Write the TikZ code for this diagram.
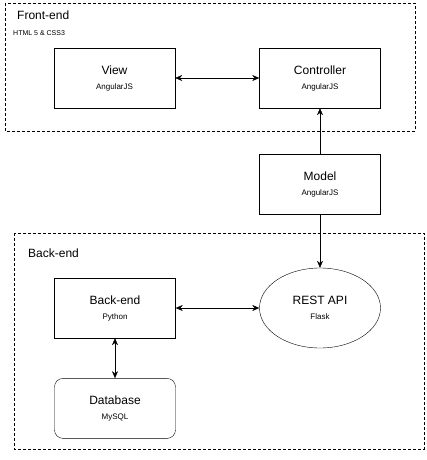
\documentclass[tikz,border=0pt]{standalone}
\usepackage{fontspec}
\setmainfont{Liberation Sans}
\usetikzlibrary{shapes, arrows.meta, positioning}

\newcommand{\subtext}[1]{{\fontsize{8}{9}\selectfont #1}}

\begin{document}
\begin{tikzpicture}[x=1pt, y=-1pt,
    component/.style={rectangle, draw, minimum width=121pt, minimum height=60pt,
        align=center, inner sep=0pt, font=\fontsize{12}{15}\selectfont},
    storage/.style={component, rounded corners=3mm},
    service/.style={ellipse, draw, minimum width=121pt, minimum height=80pt,
        align=center, inner sep=0pt, font=\fontsize{12}{15}\selectfont},
    tier/.style={draw, dashed, dash pattern=on 3pt off 2pt},
    tierlabel/.style={anchor=west, inner sep=0pt, font=\fontsize{12}{14}\selectfont},
    link/.style={-{Stealth[length=7pt, width=6pt]}},
    dlink/.style={{Stealth[length=7pt, width=6pt]}-{Stealth[length=7pt, width=6pt]}}
]
\useasboundingbox (0,0) rectangle (426,460);

% front-end tier
\draw [tier] (5,3) rectangle (415,131);
\node (FrontLabel) [tierlabel] at (17,15) {Front-end};
\node (FrontTech) [tierlabel, font=\fontsize{7}{8}\selectfont] at (13,33) {HTML 5 \& CSS3};

\node (View) [component] at (114.5,78) {View\\\subtext{AngularJS}};
\node (Controller) [component] at (320,78) {Controller\\\subtext{AngularJS}};

% model sits between the tiers
\node (Model) [component] at (320,184) {Model\\\subtext{AngularJS}};

% back-end tier
\draw [tier] (14,233) rectangle (424,449);
\node (BackLabel) [tierlabel] at (28,253) {Back-end};

\node (Backend) [component] at (115,308) {Back-end\\\subtext{Python}};
\node (Database) [storage, below=40pt of Backend] {Database\\\subtext{MySQL}};
\node (Rest) [service] at (320,308) {REST API\\\subtext{Flask}};

\draw [dlink] (View) -- (Controller);
\draw [link] (Model) -- (Controller);
\draw [link] (Model) -- (Rest);
\draw [dlink] (Backend) -- (Rest);
\draw [dlink] (Backend) -- (Database);

\end{tikzpicture}
\end{document}
